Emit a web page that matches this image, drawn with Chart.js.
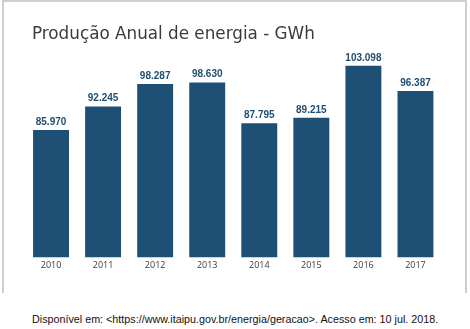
<!DOCTYPE html>
<html>
<head>
<meta charset="utf-8">
<script src="https://cdn.jsdelivr.net/npm/chart.js@4.4.1/dist/chart.umd.min.js"></script>
<style>
  body { margin: 0; background: #fff; width: 470px; height: 329px; position: relative; overflow: hidden; }
  #frame { position: absolute; left: 2px; top: 0; width: 461px; height: 291px; border: 2px solid #cfcfcf; border-bottom: none; }
  #titulo { position: absolute; left: 32px; top: 25px; font: 16.8px "DejaVu Sans"; line-height: 1; color: #3b3b3b; white-space: nowrap; }
  #wrap { position: absolute; left: 0; top: 0; width: 470px; height: 282px; }
  #fonte { position: absolute; left: 32px; top: 314px; font: 10.75px "Liberation Sans"; line-height: 1; color: #111; white-space: nowrap; }
</style>
</head>
<body>
<div id="frame"></div>
<div id="wrap"><canvas id="myChart" width="470" height="282"></canvas></div>
<div id="titulo">Produção Anual de energia - GWh</div>
<div id="fonte">Disponível em: &lt;https://www.itaipu.gov.br/energia/geracao&gt;. Acesso em: 10 jul. 2018.</div>

<script>
// produção anual de Itaipu, em GWh
const anos = ["2010", "2011", "2012", "2013", "2014", "2015", "2016", "2017"];
const producao = [85970, 92245, 98287, 98630, 87795, 89215, 103098, 96387];

const barColor = "#1d5074";
const labelColor = "#214f72";

// 85970 -> "85.970"
function formatGWh(v) {
  const mil = Math.floor(v / 1000);
  const resto = String(v % 1000).padStart(3, "0");
  return mil + "." + resto;
}

// escreve o valor em cima de cada barra
const valueLabels = {
  id: "valueLabels",
  afterDatasetsDraw(chart) {
    const ctx = chart.ctx;
    const meta = chart.getDatasetMeta(0);
    ctx.save();
    ctx.font = "bold 10px 'Liberation Sans'";
    ctx.fillStyle = labelColor;
    ctx.textAlign = "center";
    ctx.textBaseline = "bottom";
    meta.data.forEach(function (bar, i) {
      ctx.fillText(formatGWh(producao[i]), bar.x, bar.y - 3);
    });
    ctx.restore();
  },
};

const ctx = document.getElementById("myChart").getContext("2d");
const myChart = new Chart(ctx, {
  type: "bar",
  data: {
    labels: anos,
    datasets: [
      {
        data: producao,
        backgroundColor: barColor,
        borderWidth: 0,
        categoryPercentage: 1,
        barPercentage: 0.69,
      },
    ],
  },
  options: {
    responsive: false,
    animation: false,
    devicePixelRatio: 1,
    layout: { padding: { left: 25, right: 28.5, top: 55, bottom: 8 } },
    plugins: {
      legend: { display: false },
      tooltip: { enabled: false },
    },
    scales: {
      y: {
        display: false,
        min: 52000,
        max: 106000,
      },
      x: {
        grid: { display: false, drawTicks: false },
        border: { display: false },
        ticks: {
          color: "#3a3a3a",
          padding: 3,
          font: { family: "'Open Sans'", size: 9 },
        },
      },
    },
  },
  plugins: [valueLabels],
});
</script>
</body>
</html>
